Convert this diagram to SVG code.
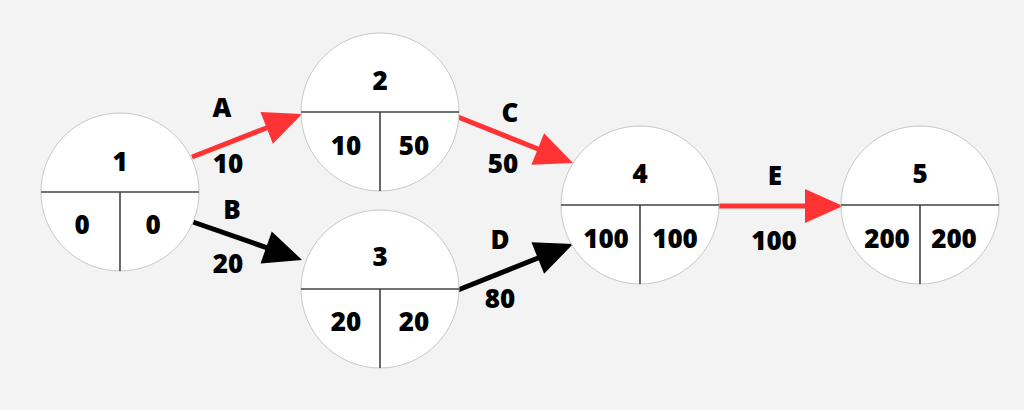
<svg xmlns="http://www.w3.org/2000/svg" width="1024" height="410" viewBox="0 0 1024 410">
<style>
.node circle{fill:#ffffff;stroke:#c8c8c8;stroke-width:1}
.div{stroke:#444444;stroke-width:1.6;fill:none}
text{font-family:"Open Sans","Liberation Sans",sans-serif;font-weight:800;font-size:26px;fill:#000000;text-anchor:middle}
.red{stroke:#ff3333;stroke-width:5;fill:none}
.blk{stroke:#000000;stroke-width:5;fill:none}
</style>
<defs>
<marker id="ar" markerUnits="userSpaceOnUse" markerWidth="38" markerHeight="34" refX="1" refY="17" orient="auto" overflow="visible"><path d="M0,0 L38,17 L0,34 z" fill="#ff3333"/></marker>
<marker id="ab" markerUnits="userSpaceOnUse" markerWidth="38" markerHeight="34" refX="1" refY="17" orient="auto" overflow="visible"><path d="M0,0 L38,17 L0,34 z" fill="#000000"/></marker>
</defs>
<rect width="1024" height="410" fill="#f3f3f3"/>
<g id="connectors">
<line class="red" x1="192" y1="157" x2="267.6" y2="127.5" marker-end="url(#ar)"/>
<line class="blk" x1="193" y1="222" x2="267.1" y2="247.8" marker-end="url(#ab)"/>
<line class="red" x1="458" y1="117" x2="538.7" y2="149.3" marker-end="url(#ar)"/>
<line class="blk" x1="458" y1="290" x2="538.7" y2="257.7" marker-end="url(#ab)"/>
<line class="red" x1="718" y1="206" x2="806" y2="206" marker-end="url(#ar)"/>
<text x="222" y="117">A</text>
<text x="228" y="173">10</text>
<text x="232" y="219">B</text>
<text x="228" y="273">20</text>
<text x="510" y="122">C</text>
<text x="503" y="173">50</text>
<text x="500" y="249">D</text>
<text x="500" y="308">80</text>
<text x="775" y="185">E</text>
<text x="774" y="250">100</text>
</g>
<g id="node1" class="node">
<circle cx="120" cy="192" r="79"/>
<path class="div" d="M41,192 H199 M120,192 V271"/>
<text x="120" y="171">1</text>
<text x="82" y="234">0</text>
<text x="153" y="234">0</text>
</g>
<g id="node2" class="node">
<circle cx="380" cy="112" r="79"/>
<path class="div" d="M301,112 H459 M380,112 V191"/>
<text x="380" y="90">2</text>
<text x="346" y="155">10</text>
<text x="414" y="155">50</text>
</g>
<g id="node3" class="node">
<circle cx="380" cy="289" r="79"/>
<path class="div" d="M301,289 H459 M380,289 V368"/>
<text x="380" y="266">3</text>
<text x="346" y="331">20</text>
<text x="414" y="331">20</text>
</g>
<g id="node4" class="node">
<circle cx="640" cy="205" r="79"/>
<path class="div" d="M561,205 H719 M640,205 V284"/>
<text x="640" y="183">4</text>
<text x="606" y="248">100</text>
<text x="675" y="248">100</text>
</g>
<g id="node5" class="node">
<circle cx="920" cy="205" r="79"/>
<path class="div" d="M841,205 H999 M920,205 V284"/>
<text x="920" y="183">5</text>
<text x="887" y="248">200</text>
<text x="954" y="248">200</text>
</g>
</svg>
